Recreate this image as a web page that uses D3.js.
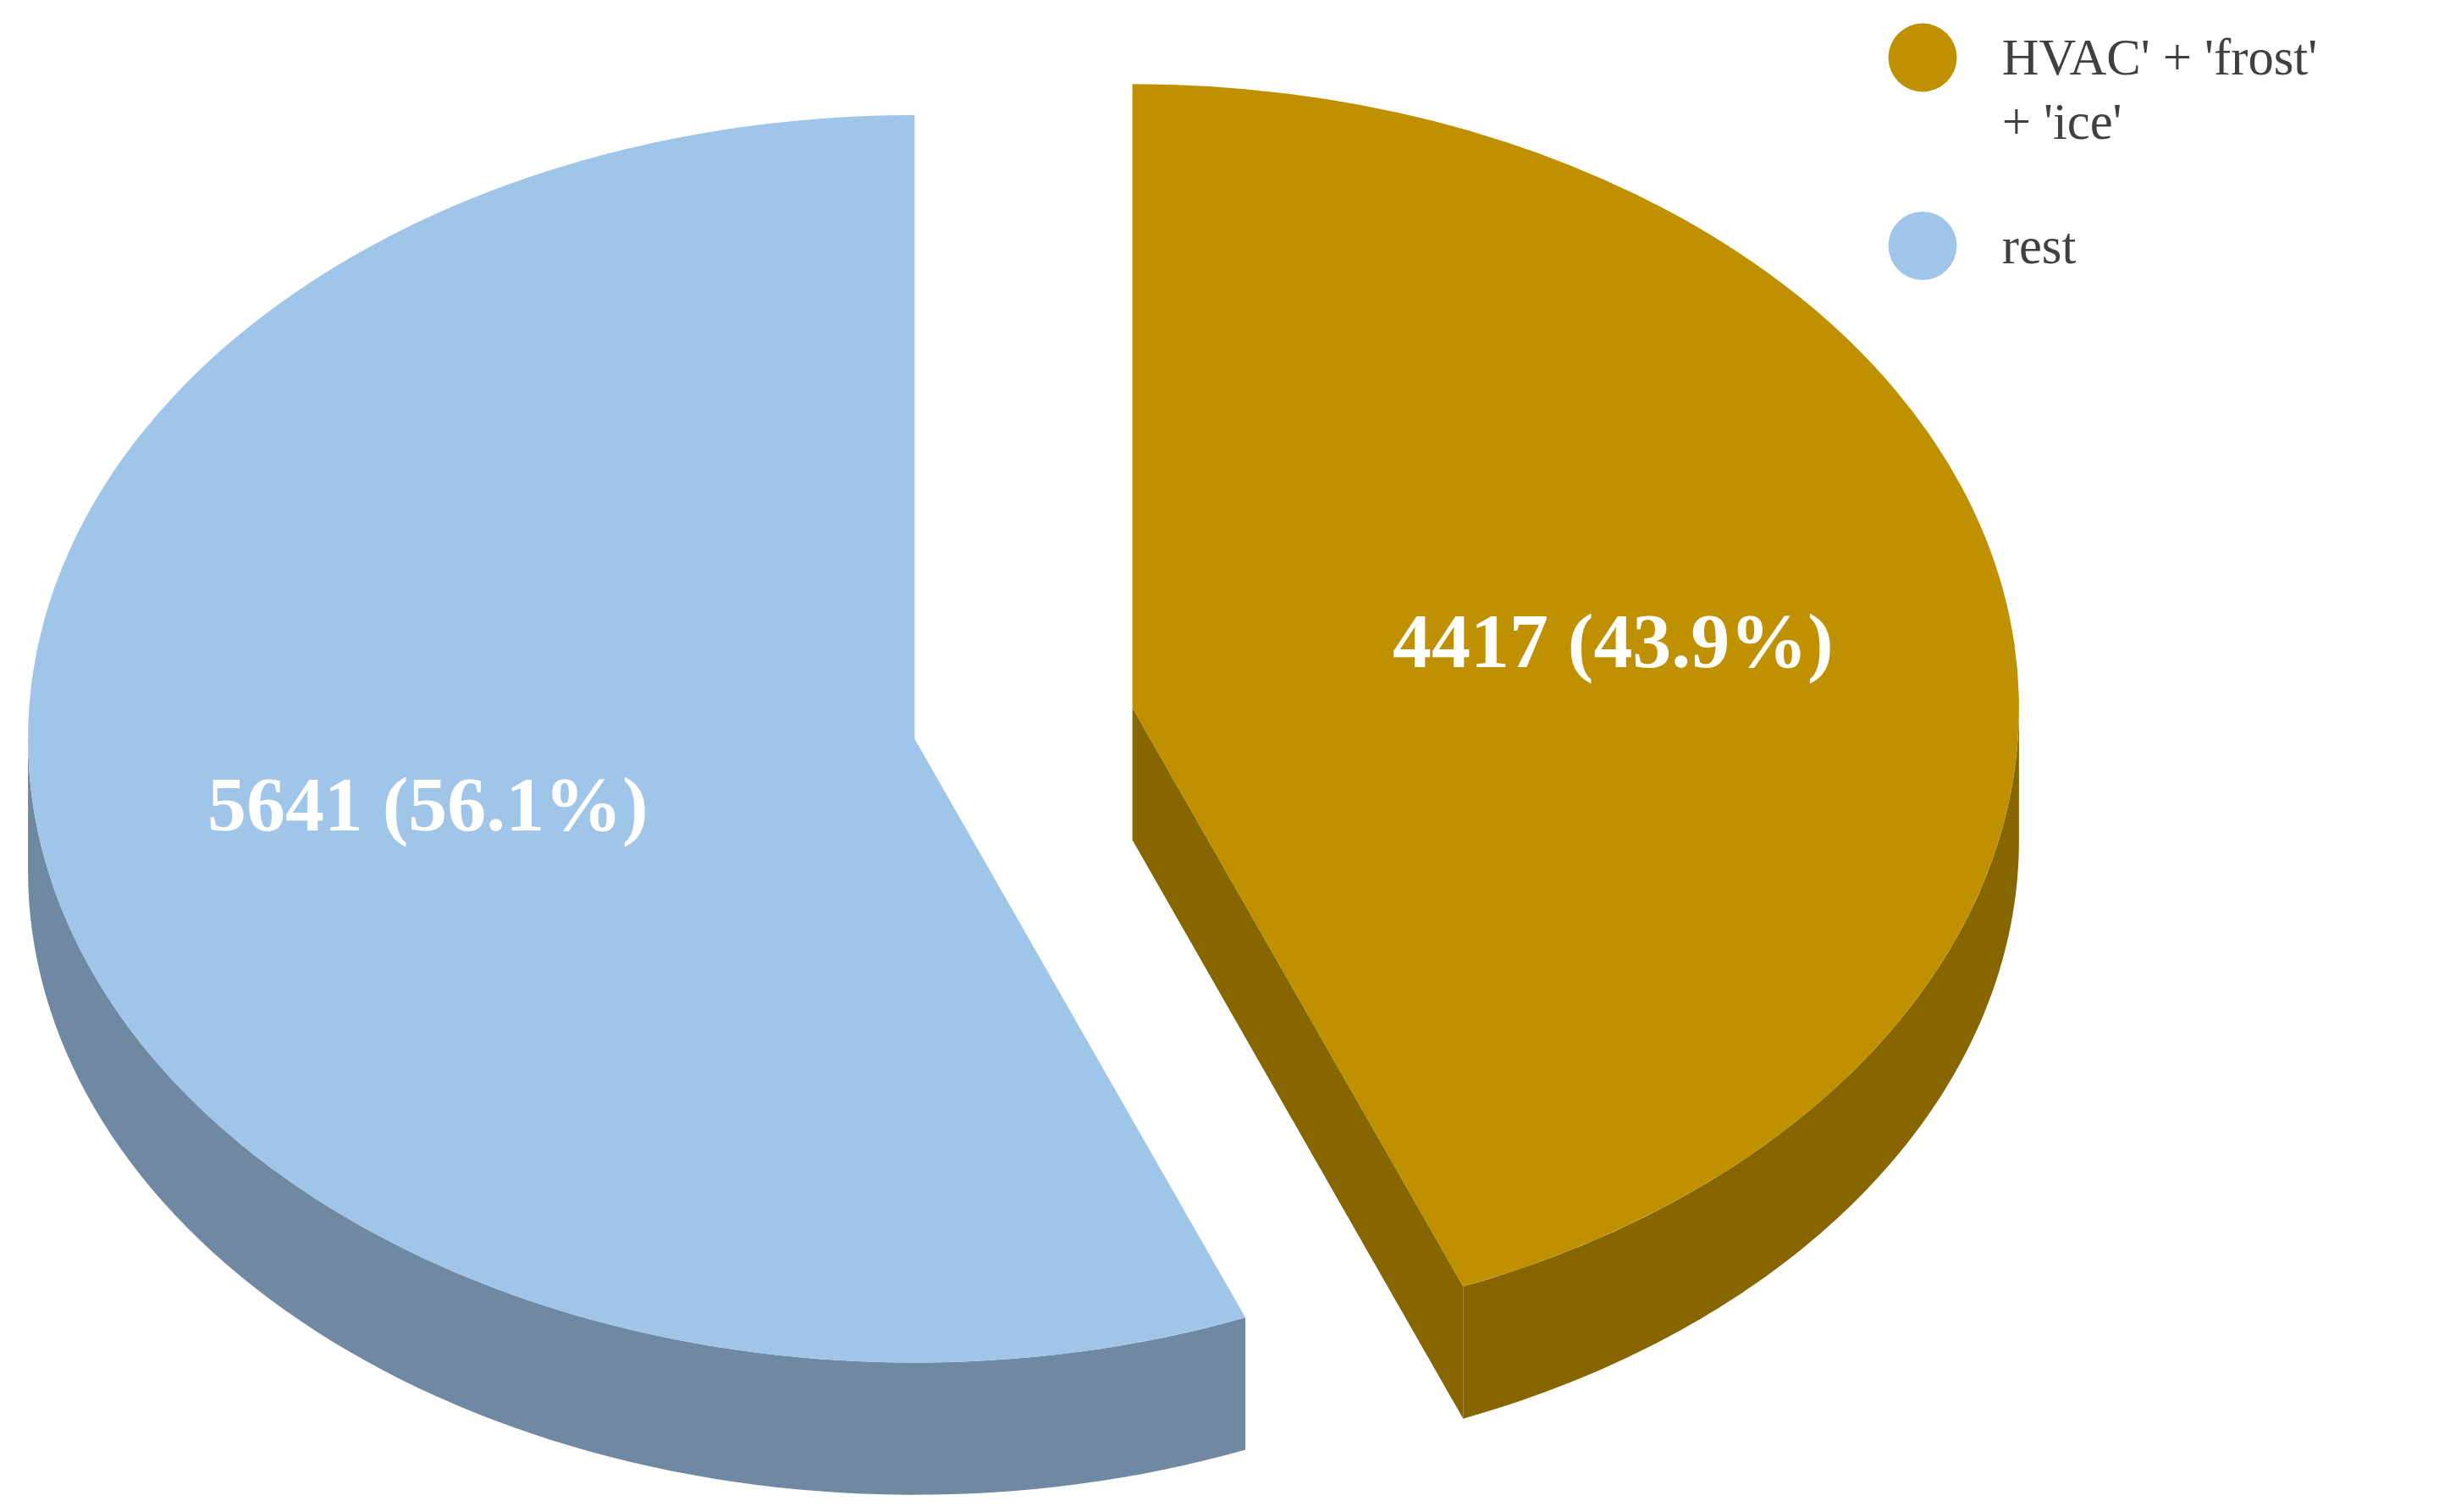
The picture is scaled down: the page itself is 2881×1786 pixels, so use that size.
<!DOCTYPE html>
<html lang="en">
<meta charset="utf-8"/>
<head>
<title>3D pie</title>
<style>
body { margin: 0; background: #fff; }
</style>
</head>
<body>
<svg id="chart" width="2881" height="1786"></svg>
<script src="https://cdn.jsdelivr.net/npm/d3@7"></script>
<script>
var categories = ["HVAC' + 'frost' + 'ice'", "rest"];
var values = [4417, 5641];
var legendLines = [["HVAC' + 'frost'", "+ 'ice'"], ["rest"]];
var topColors = ["#bf9000", "#9fc5e8"];
var sideColors = ["#876500", "#7089a3"];

var s = 2881 / 1568;
var rx = 570, ry = 401, depth = 85;
// exploded slice centres (reference pixel space, scaled by s)
var centres = [[728, 455], [588, 475]];
var labelPos = [[1037, 412], [275, 517]];

var svg = d3.select("#chart");
var g = svg.append("g").attr("transform", "scale(" + s + ")");

var total = d3.sum(values);
var pie = d3.pie().sort(null).value(function(d) { return d; });
var arcs = pie(values);

function pt(c, a, dy) {
  return [c[0] + rx * Math.sin(a), c[1] - ry * Math.cos(a) + (dy || 0)];
}
function arcPts(c, a0, a1, dy) {
  var n = 80, out = [];
  for (var i = 0; i <= n; i++) out.push(pt(c, a0 + (a1 - a0) * i / n, dy));
  return out;
}
var line = d3.line();

arcs.forEach(function(d, i) {
  var c = centres[i];
  // outer wall, front half only
  var a0 = Math.max(d.startAngle, Math.PI / 2), a1 = Math.min(d.endAngle, 3 * Math.PI / 2);
  if (a1 > a0) {
    var top = arcPts(c, a0, a1, 0), bot = arcPts(c, a1, a0, depth);
    g.append("path").attr("d", line(top.concat(bot)) + "Z").attr("fill", sideColors[i]);
  }
  // radial walls facing the viewer
  [[d.endAngle, 1], [d.startAngle, -1]].forEach(function(e) {
    if (Math.sin(e[0]) * e[1] > 1e-6) {
      var p = pt(c, e[0], 0);
      var poly = [c, p, [p[0], p[1] + depth], [c[0], c[1] + depth]];
      g.append("path").attr("d", line(poly) + "Z").attr("fill", sideColors[i]);
    }
  });
});

var arc = d3.arc().innerRadius(0).outerRadius(rx);
arcs.forEach(function(d, i) {
  var c = centres[i];
  g.append("path")
    .attr("transform", "translate(" + c[0] + "," + c[1] + ") scale(1," + (ry / rx) + ")")
    .attr("d", arc(d))
    .attr("fill", topColors[i]);
  g.append("text")
    .attr("x", labelPos[i][0]).attr("y", labelPos[i][1])
    .attr("text-anchor", "middle").attr("dominant-baseline", "central")
    .attr("font-family", "'Liberation Serif', 'DejaVu Serif', serif")
    .attr("font-weight", "bold").attr("font-size", 50)
    .attr("fill", "#fff")
    .text(values[i] + " (" + (values[i] / total * 100).toFixed(1) + "%)");
});

// legend
var legendY = [37, 158];
categories.forEach(function(cat, i) {
  g.append("circle").attr("cx", 1236).attr("cy", legendY[i]).attr("r", 22).attr("fill", topColors[i]);
  var t = g.append("text")
    .attr("font-family", "'Liberation Serif', 'DejaVu Serif', serif")
    .attr("font-size", 33).attr("fill", "#404040");
  legendLines[i].forEach(function(l, j) {
    t.append("tspan").attr("x", 1287).attr("y", legendY[i] + 11 + j * 41).text(l);
  });
});
</script>
</body>
</html>
